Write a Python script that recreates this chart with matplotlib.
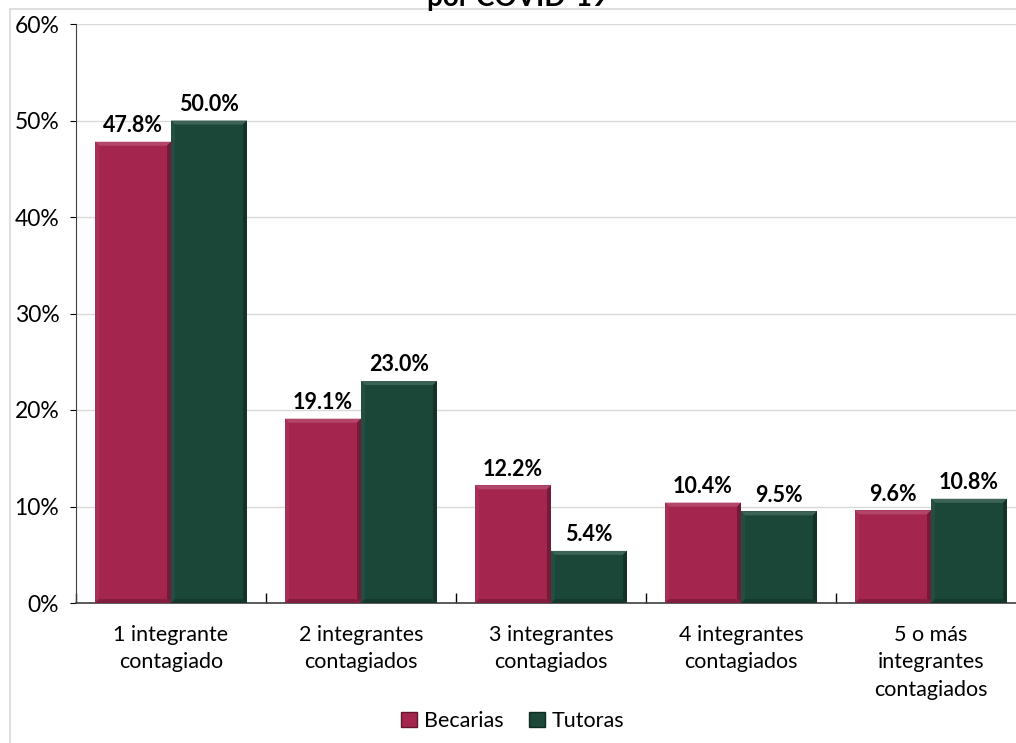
import numpy as np
import matplotlib.pyplot as plt
from matplotlib.patches import Patch, Rectangle
from matplotlib.colors import to_rgb

plt.rcParams['font.family'] = ['Lato', 'DejaVu Sans']

categories = ["1 integrante\ncontagiado", "2 integrantes\ncontagiados",
              "3 integrantes\ncontagiados", "4 integrantes\ncontagiados",
              "5 o más\nintegrantes\ncontagiados"]
becarias = [47.8, 19.1, 12.2, 10.4, 9.6]
tutoras = [50.0, 23.0, 5.4, 9.5, 10.8]
series_names = ["Becarias", "Tutoras"]
colors = ["#A4264F", "#1B4739"]
yticks = [0, 10, 20, 30, 40, 50, 60]


def shade(c, f):
    r = np.array(to_rgb(c))
    if f > 0:
        return tuple(r + (1 - r) * f)
    return tuple(r * (1 + f))


def bevel(ax, bar, color, px=4):
    # fake the raised look: light top/left edge, dark bottom/right edge
    x0, y0 = bar.get_x(), bar.get_y()
    x1, y1 = x0 + bar.get_width(), y0 + bar.get_height()
    p0 = ax.transData.inverted().transform((0, 0))
    p1 = ax.transData.inverted().transform((px, px))
    dx, dy = p1 - p0
    ax.fill([x0, x1, x1 - dx, x0 + dx], [y1, y1, y1 - dy, y1 - dy],
            color=shade(color, 0.15), lw=0, zorder=3)
    ax.fill([x0, x0 + dx, x0 + dx, x0], [y0, y0 + dy, y1 - dy, y1],
            color=shade(color, 0.04), lw=0, zorder=3)
    ax.fill([x1, x1, x1 - dx, x1 - dx], [y0, y1, y1 - dy, y0 + dy],
            color=shade(color, -0.3), lw=0, zorder=3)
    ax.fill([x0, x1, x1 - dx, x0 + dx], [y0, y0, y0 + dy, y0 + dy],
            color=shade(color, -0.2), lw=0, zorder=3)


fig = plt.figure(figsize=(10.16, 7.43), dpi=100)
# outer chart frame
fig.patches.append(Rectangle((10 / 1016, -0.1), 1.2, 1 - 9 / 743 + 0.1,
                             transform=fig.transFigure, fill=False,
                             edgecolor="#D9D9D9", lw=1.2))
fig.text(0.509, 1 - 6 / 743, "por COVID-19", ha="center", va="baseline",
         fontsize=20, fontweight="bold")

ax = fig.add_axes([76 / 1016, 140 / 743, 950 / 1016, 579 / 743])
x = np.arange(len(categories))
w = 0.4
bars_b = ax.bar(x - w / 2, becarias, w, color=colors[0], zorder=2)
bars_t = ax.bar(x + w / 2, tutoras, w, color=colors[1], zorder=2)
ax.set_xlim(-0.5, len(categories) - 0.5)
ax.set_ylim(0, 60)

for bars, c in ((bars_b, colors[0]), (bars_t, colors[1])):
    for b in bars:
        bevel(ax, b, c)
        ax.annotate(f"{b.get_height():.1f}%",
                    (b.get_x() + b.get_width() / 2, b.get_height()),
                    xytext=(0, 4), textcoords="offset points",
                    ha="center", va="bottom", fontsize=15.5, fontweight="bold")

ax.set_yticks(yticks)
ax.set_yticklabels([f"{v}%" for v in yticks])
ax.yaxis.grid(True, color="#D9D9D9", lw=1, zorder=0)
ax.set_xticks(x)
ax.set_xticklabels(categories)
ax.set_xticks(np.arange(len(categories) + 1) - 0.5, minor=True)
ax.tick_params(axis="x", which="major", length=0, pad=16, labelsize=15.5)
ax.tick_params(axis="x", which="minor", direction="in", length=7, width=1)
ax.tick_params(axis="y", length=4, labelsize=16.5, pad=8)
for lbl in ax.get_xticklabels():
    lbl.set_linespacing(1.45)
for s in ("top", "right"):
    ax.spines[s].set_visible(False)
ax.spines["left"].set_color("#404040")
ax.spines["bottom"].set_color("#404040")
ax.spines["bottom"].set_linewidth(1.2)

handles = [Patch(facecolor=c, edgecolor=shade(c, -0.4), label=n)
           for c, n in zip(colors, series_names)]
fig.legend(handles=handles, loc="center", bbox_to_anchor=(0.505, 1 - 721 / 743),
           ncol=2, frameon=False, fontsize=15.5, handlelength=0.7,
           handleheight=0.7, handletextpad=0.35, columnspacing=1.2)

fig.savefig("out.png", dpi=100)
